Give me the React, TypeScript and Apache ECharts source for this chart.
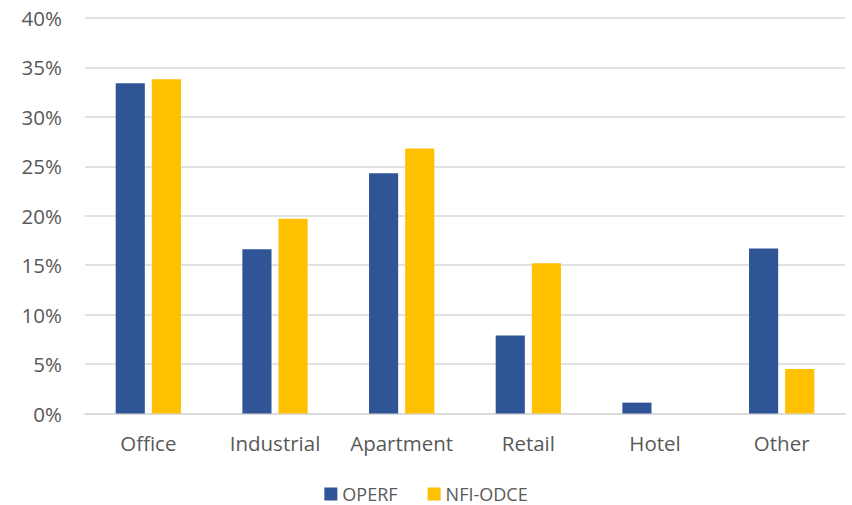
import React, { useEffect, useRef } from "react";
import * as echarts from "echarts";

const categories = ["Office", "Industrial", "Apartment", "Retail", "Hotel", "Other"];
const operf = [33.4, 16.6, 24.3, 7.9, 1.1, 16.7];
const nfiOdce = [33.8, 19.7, 26.8, 15.2, 0, 4.5];
const seriesNames = ["OPERF", "NFI-ODCE"];

export default function App() {
  const ref = useRef<HTMLDivElement>(null);
  useEffect(() => {
    if (!ref.current) return;
    const chart = echarts.init(ref.current, null, { renderer: "svg" });
    const font = "'Open Sans', sans-serif";
    chart.setOption({
      animation: false,
      textStyle: { fontFamily: font },
      grid: { left: 85, right: 7, top: 18, bottom: 91.5 },
      legend: {
        top: 481,
        left: "center",
        padding: [4, 5, 0, 5],
        itemWidth: 13,
        itemHeight: 13,
        itemGap: 30,
        icon: "rect",
        textStyle: { fontSize: 18, color: "#595959", fontFamily: font },
        data: seriesNames,
      },
      xAxis: {
        type: "category",
        data: categories,
        axisLine: { lineStyle: { color: "#d9d9d9", width: 1.5 } },
        axisTick: { show: false },
        axisLabel: { interval: 0, fontSize: 20.5, color: "#595959", margin: 19, fontFamily: font },
      },
      yAxis: {
        type: "value",
        min: 0,
        max: 40,
        interval: 5,
        axisLine: { show: false },
        axisTick: { show: false },
        axisLabel: { formatter: "{value}%", fontSize: 20.5, color: "#595959", margin: 23, fontFamily: font },
        splitLine: { lineStyle: { color: "#d9d9d9", width: 1.5 } },
      },
      series: [
        {
          name: seriesNames[0],
          type: "bar",
          data: operf,
          barWidth: "23%",
          barGap: "24%",
          itemStyle: { color: "#2F5597" },
        },
        {
          name: seriesNames[1],
          type: "bar",
          data: nfiOdce,
          barWidth: "23%",
          itemStyle: { color: "#FFC000" },
        },
      ],
    });
    return () => chart.dispose();
  }, []);
  return <div ref={ref} style={{ width: 852, height: 505, position: "absolute", left: 0, top: 0 }} />;
}
